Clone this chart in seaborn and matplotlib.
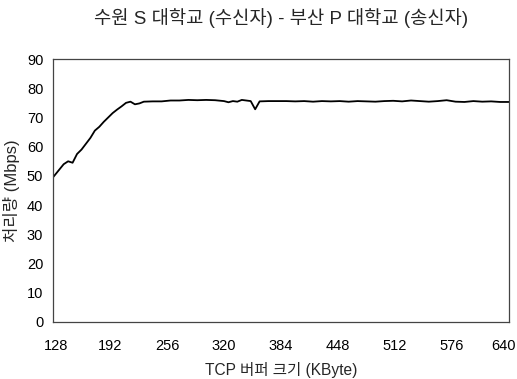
import matplotlib
matplotlib.use("Agg")
import matplotlib.pyplot as plt
import matplotlib.transforms as mtransforms
import seaborn as sns
import pandas as pd

# TCP buffer size (KByte) and throughput (Mbps)
buffer_kb = [128, 132, 136, 140, 145, 150, 155, 160, 165, 170, 175, 180, 185, 190,
             195, 200, 205, 210, 215, 220, 225, 230, 240, 250, 260, 270, 280, 290,
             300, 310, 320, 325, 330, 335, 340, 345, 350, 355, 360, 370, 380, 390,
             400, 410, 420, 430, 440, 450, 460, 470, 480, 490, 500, 510, 520, 530,
             540, 550, 560, 570, 580, 590, 600, 610, 620, 630, 640]
throughput = [49.5, 51.0, 52.5, 54.0, 55.0, 54.5, 57.5, 59.0, 61.0, 63.0, 65.5, 66.8, 68.5, 70.0,
              71.5, 72.7, 73.8, 75.0, 75.4, 74.5, 74.8, 75.4, 75.5, 75.5, 75.8, 75.8, 76.0, 75.9,
              76.0, 75.9, 75.6, 75.2, 75.6, 75.4, 76.0, 75.8, 75.6, 72.8, 75.5, 75.6, 75.6, 75.6,
              75.5, 75.6, 75.4, 75.6, 75.5, 75.6, 75.4, 75.6, 75.5, 75.4, 75.6, 75.7, 75.5, 75.8,
              75.6, 75.4, 75.6, 75.9, 75.4, 75.3, 75.6, 75.4, 75.5, 75.3, 75.3]
x_ticks = [128, 192, 256, 320, 384, 448, 512, 576, 640]
y_ticks = [0, 10, 20, 30, 40, 50, 60, 70, 80, 90]

df = pd.DataFrame({"buffer": buffer_kb, "mbps": throughput})

sns.set_style("white")
plt.rcParams['font.family'] = ['Liberation Sans', 'Noto Sans CJK KR']

fig = plt.figure(figsize=(5.17, 3.79), dpi=100)
ax = fig.add_axes([0.1025, 0.1504, 0.882, 0.6939])

sns.lineplot(data=df, x="buffer", y="mbps", ax=ax, color="black", linewidth=1.3)

ax.set_xlim(128, 640)
ax.set_ylim(0, 90)
ax.set_xticks(x_ticks)
ax.set_yticks(y_ticks)
ax.tick_params(direction="in", length=3, width=0.8, color="#555555",
               labelsize=10.5, labelcolor="black")
ax.tick_params(axis="x", pad=12)
ax.tick_params(axis="y", pad=7)
for s in ax.spines.values():
    s.set_visible(True)
    s.set_color("#444444")
    s.set_linewidth(0.9)

# end labels sit a little inside the axis ends in the original
xlabels = ax.get_xticklabels()
xlabels[0].set_transform(xlabels[0].get_transform() +
                         mtransforms.ScaledTranslation(3 / 100, 0, fig.dpi_scale_trans))
xlabels[-1].set_transform(xlabels[-1].get_transform() +
                          mtransforms.ScaledTranslation(-5 / 100, 0, fig.dpi_scale_trans))

ax.set_xlabel("TCP 버퍼 크기 (KByte)", fontsize=11.2, labelpad=7)
ax.set_ylabel("처리량 (Mbps)", fontsize=12, labelpad=5)
ax.set_title("수원 S 대학교 (수신자) - 부산 P 대학교 (송신자)", fontsize=13.5, pad=25)

fig.savefig("out.png", dpi=100)
